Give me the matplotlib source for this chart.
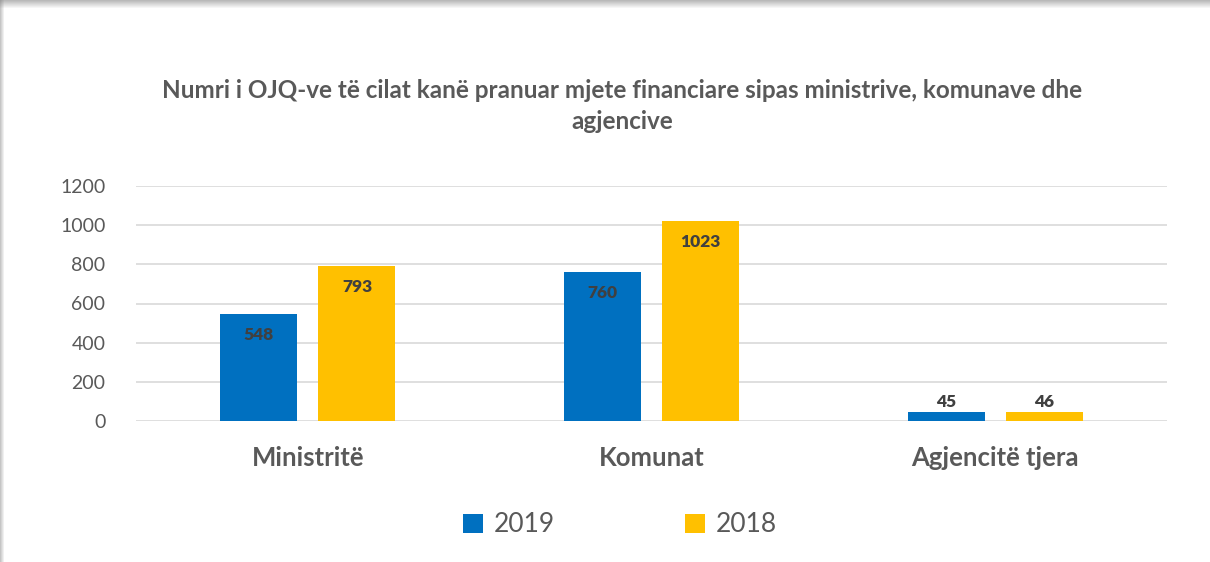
import numpy as np
import matplotlib
matplotlib.use('Agg')
import matplotlib.pyplot as plt
from matplotlib.patches import Rectangle

plt.rcParams['font.family'] = ['Lato', 'DejaVu Sans']

categories = ['Ministritë', 'Komunat', 'Agjencitë tjera']
series_names = ['2019', '2018']
values_2019 = [548, 760, 45]
values_2018 = [793, 1023, 46]
colors = ['#0070C0', '#FFC000']
title = 'Numri i OJQ-ve të cilat kanë pranuar mjete financiare sipas ministrive, komunave dhe\nagjencive'

W, H = 1210, 562
fig = plt.figure(figsize=(W / 100, H / 100), dpi=100)
fig.patch.set_facecolor('white')

# shadow border (top and left) like the Excel chart frame
for i in range(8):
    a = 0.55 * (1 - i / 8)
    fig.patches.append(Rectangle((0, 1 - (i + 1) / H), 1, 1 / H, transform=fig.transFigure,
                                 facecolor='#808080', alpha=a, edgecolor='none', zorder=0))
for i in range(4):
    a = 0.45 * (1 - i / 4)
    fig.patches.append(Rectangle((i / W, 0), 1 / W, 1, transform=fig.transFigure,
                                 facecolor='#808080', alpha=a, edgecolor='none', zorder=0))

ax = fig.add_axes([136 / W, 1 - 421 / H, (1167 - 136) / W, (421 - 186) / H])
x = np.arange(len(categories))
bw, off = 0.224, 0.143
for vals, name, col, sgn in [(values_2019, series_names[0], colors[0], -1),
                             (values_2018, series_names[1], colors[1], 1)]:
    bars = ax.bar(x + sgn * off, vals, bw, color=col, label=name, zorder=3)
    for b, v in zip(bars, vals):
        cx = b.get_x() + b.get_width() / 2
        dy = -21 if v > 150 else 10
        ax.annotate(str(v), (cx, v), xytext=(0, dy), textcoords='offset pixels',
                    ha='center', va='center', fontsize=12.5, fontweight='heavy', color='#404040')

ax.set_xlim(-0.5, 2.5)
ax.set_ylim(0, 1200)
ax.set_yticks(np.arange(0, 1201, 200))
ax.yaxis.grid(True, color='#D9D9D9', linewidth=1.2, zorder=0)
ax.set_axisbelow(True)
for s in ax.spines.values():
    s.set_visible(False)
ax.tick_params(axis='both', length=0)
ax.tick_params(axis='y', labelsize=14, labelcolor='#595959', pad=22)
ax.set_xticks(x)
ax.set_xticklabels(categories, fontsize=18.5, fontweight='bold', color='#595959')
ax.tick_params(axis='x', pad=18)

fig.text(0.514, 1 - 106 / H, title, ha='center', va='center', fontsize=17.5, fontweight='bold',
         color='#595959', linespacing=1.4)

leg = fig.legend(loc='center', bbox_to_anchor=(620 / W, 1 - 525 / H), ncol=2, frameon=False,
                 fontsize=19, labelcolor='#595959', handlelength=0.75, handleheight=0.75,
                 handletextpad=0.4, columnspacing=4.95)

fig.savefig('out.png', dpi=100, facecolor='white')
